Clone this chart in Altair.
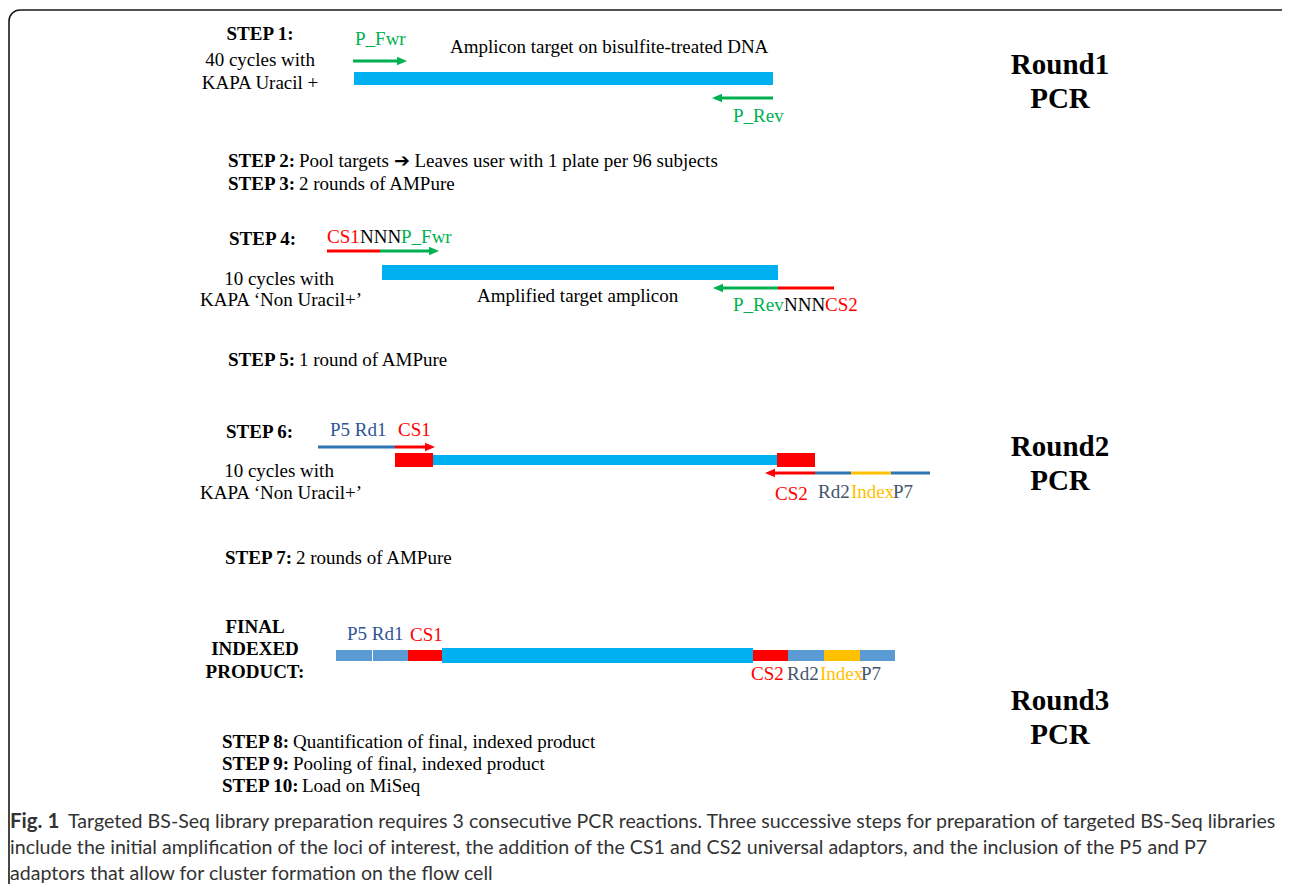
import altair as alt
import pandas as pd

SERIF = "Liberation Serif"
SANS = "Lato"

# ---------------- data (diagram geometry, image pixel coordinates) ----------------
# thick DNA bars
bar_start = [354, 382, 395, 433, 777, 336, 373, 408, 442, 753, 788, 824, 860]
bar_end = [773, 778, 433, 777, 815, 372, 408, 442, 753, 788, 824, 860, 895]
bar_top = [72, 265, 453, 455, 453, 650, 650, 650, 648, 650, 650, 650, 650]
bar_bottom = [85, 280, 467, 465, 467, 661, 661, 661, 663, 661, 661, 661, 661]
bar_kind = ["target", "target", "cs", "target", "cs", "adaptor", "adaptor", "cs",
            "target", "cs", "adaptor", "index", "adaptor"]

# thin primer / adaptor lines
line_start = [353, 718, 327, 380, 721, 778, 318, 395, 773, 815, 851, 891]
line_end = [398, 773, 380, 430, 778, 834, 395, 426, 815, 851, 891, 930]
line_y = [61, 98, 251, 251, 288, 288, 447, 447, 473, 473, 473, 473]
line_kind = ["primer", "primer", "cs", "primer", "primer", "cs", "adaptor_line",
             "cs", "cs", "adaptor_line", "index", "adaptor_line"]

# arrow heads (tip position)
head_x = [407, 712, 439, 713, 435, 765]
head_y = [61, 98, 251, 288, 447, 473]
head_dir = ["right", "left", "right", "left", "right", "left"]
head_kind = ["primer", "primer", "primer", "primer", "cs", "cs"]

kind_domain = ["target", "cs", "primer", "adaptor", "adaptor_line", "index"]
kind_range = ["#00B0F0", "#FF0000", "#00B050", "#5B9BD5", "#2E75B6", "#FFC000"]

# frame
frame_left, frame_right, frame_top, frame_bottom = [9], [1300], [10], [905]

# text: bold step headers (left aligned)
step_x = [228, 228, 229, 228, 226, 225, 222, 222, 222]
step_y = [161, 184, 239, 360, 432, 558, 742, 764, 786]
step_t = ["STEP 2:", "STEP 3:", "STEP 4:", "STEP 5:", "STEP 6:", "STEP 7:",
          "STEP 8:", "STEP 9:", "STEP 10:"]

# normal step descriptions (left aligned)
desc_x = [299, 299, 299, 296, 293, 293, 302]
desc_y = [161, 184, 360, 558, 742, 764, 786]
desc_t = ["Pool targets \u2794 Leaves user with 1 plate per 96 subjects",
          "2 rounds of AMPure", "1 round of AMPure", "2 rounds of AMPure",
          "Quantification of final, indexed product",
          "Pooling of final, indexed product", "Load on MiSeq"]

# bold centered labels on the left
boldc_x = [260, 255, 255, 255]
boldc_y = [34, 627, 649, 672]
boldc_t = ["STEP 1:", "FINAL", "INDEXED", "PRODUCT:"]

# normal centered labels on the left
cyc_x = [260, 260, 279, 281, 279, 281]
cyc_y = [60, 83, 279, 300, 471, 493]
cyc_t = ["40 cycles with", "KAPA Uracil +", "10 cycles with",
         "KAPA \u2018Non Uracil+\u2019", "10 cycles with", "KAPA \u2018Non Uracil+\u2019"]

# round titles
round_x = [1060, 1060, 1060, 1060, 1060, 1060]
round_y = [65, 99, 447, 481, 701, 735]
round_t = ["Round1", "PCR", "Round2", "PCR", "Round3", "PCR"]

# black annotation text
black_x = [450, 477, 360, 784]
black_y = [47, 296, 237, 305]
black_t = ["Amplicon target on bisulfite-treated DNA", "Amplified target amplicon",
           "NNN", "NNN"]

# green primer labels
green_x = [355, 733, 401, 733]
green_y = [39, 116, 237, 305]
green_t = ["P_Fwr", "P_Rev", "P_Fwr", "P_Rev"]

# red CS labels
red_x = [327, 825, 398, 775, 410, 751]
red_y = [237, 305, 430, 494, 635, 674]
red_t = ["CS1", "CS2", "CS1", "CS2", "CS1", "CS2"]

# navy adaptor labels
navy_x = [330, 347]
navy_y = [430, 634]
navy_t = ["P5 Rd1", "P5 Rd1"]

# slate adaptor labels
slate_x = [818, 893, 787, 861]
slate_y = [492, 492, 674, 674]
slate_t = ["Rd2", "P7", "Rd2", "P7"]

# gold index labels
gold_x = [851, 820]
gold_y = [492, 674]
gold_t = ["Index", "Index"]

# caption
cap_bold_x, cap_bold_y, cap_bold_t = [10], [822], ["Fig. 1"]
cap_x = [68, 10, 10]
cap_y = [822, 848, 874]
cap_t = [
    "Targeted BS-Seq library preparation requires 3 consecutive PCR reactions. Three successive steps for preparation of targeted BS-Seq libraries",
    "include the initial amplification of the loci of interest, the addition of the CS1 and CS2 universal adaptors, and the inclusion of the P5 and P7",
    "adaptors that allow for cluster formation on the flow cell",
]

# ---------------- chart ----------------
VW, VH = 1274, 876
XS = alt.Scale(domain=[8, 8 + VW], range=[0, VW], nice=False, zero=False)
YS = alt.Scale(domain=[8, 8 + VH], range=[0, VH], nice=False, zero=False)
CS = alt.Scale(domain=kind_domain, range=kind_range)


def X(f):
    return alt.X(f, type="quantitative", scale=XS, axis=None)


def Y(f):
    return alt.Y(f, type="quantitative", scale=YS, axis=None)


def text_layer(xv, yv, tv, color, weight="normal", size=19, align="left", font=SERIF):
    df = pd.DataFrame({"x": xv, "y": yv, "t": tv})
    return alt.Chart(df).mark_text(
        align=align, baseline="middle", font=font, fontSize=size,
        fontWeight=weight, color=color
    ).encode(x=X("x"), y=Y("y"), text="t:N")


frame = alt.Chart(pd.DataFrame({"l": frame_left, "r": frame_right, "t": frame_top, "b": frame_bottom})).mark_rect(
    fillOpacity=0, stroke="#1a1a1a", strokeWidth=1.6, cornerRadius=11, clip=True
).encode(x=X("l"), x2="r", y=Y("t"), y2="b")

bars = alt.Chart(pd.DataFrame({"s": bar_start, "e": bar_end, "t": bar_top, "b": bar_bottom, "k": bar_kind})).mark_rect().encode(
    x=X("s"), x2="e", y=Y("t"), y2="b",
    color=alt.Color("k:N", scale=CS, legend=None))

lines = alt.Chart(pd.DataFrame({"s": line_start, "e": line_end, "y": line_y, "k": line_kind})).mark_rule(
    strokeWidth=3).encode(
    x=X("s"), x2="e", y=Y("y"),
    color=alt.Color("k:N", scale=CS, legend=None))

heads_df = pd.DataFrame({"x": head_x, "y": head_y, "d": head_dir, "k": head_kind})
RIGHT = "M -2 -0.85 L 0 0 L -2 0.85 Z"
LEFT = "M 2 -0.85 L 0 0 L 2 0.85 Z"
heads = alt.Chart(heads_df).mark_point(filled=True, size=100, opacity=1, strokeWidth=0).encode(
    x=X("x"), y=Y("y"),
    shape=alt.Shape("d:N", scale=alt.Scale(domain=["right", "left"], range=[RIGHT, LEFT]), legend=None),
    color=alt.Color("k:N", scale=CS, legend=None))

layers = [
    frame, bars, lines, heads,
    text_layer(step_x, step_y, step_t, "#000000", weight="bold"),
    text_layer(desc_x, desc_y, desc_t, "#000000"),
    text_layer(boldc_x, boldc_y, boldc_t, "#000000", weight="bold", align="center"),
    text_layer(cyc_x, cyc_y, cyc_t, "#000000", align="center"),
    text_layer(round_x, round_y, round_t, "#000000", weight="bold", size=29, align="center"),
    text_layer(black_x, black_y, black_t, "#000000"),
    text_layer(green_x, green_y, green_t, "#00B050"),
    text_layer(red_x, red_y, red_t, "#FF0000"),
    text_layer(navy_x, navy_y, navy_t, "#2F5597"),
    text_layer(slate_x, slate_y, slate_t, "#44546A"),
    text_layer(gold_x, gold_y, gold_t, "#FFC000"),
    text_layer(cap_bold_x, cap_bold_y, cap_bold_t, "#333333", weight="bold", size=20.5, font=SANS),
    text_layer(cap_x, cap_y, cap_t, "#333333", size=19.6, font=SANS),
]

chart = alt.layer(*layers).properties(
    width=VW, height=VH, padding=0,
    autosize=alt.AutoSizeParams(type="none"),
).configure_view(strokeWidth=0)

chart.save("out.html", embed_options={"renderer": "svg", "actions": False})
